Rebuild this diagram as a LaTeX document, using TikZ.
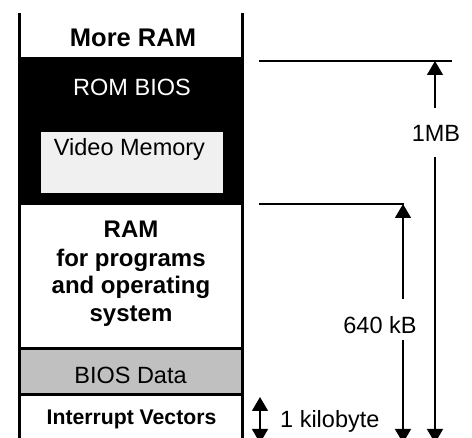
\documentclass[tikz,border=0pt]{standalone}
\usepackage{fontspec}
\setmainfont{Liberation Sans}
\usetikzlibrary{arrows.meta}
\definecolor{vidgray}{HTML}{F0F0F0}
\definecolor{biosgray}{HTML}{C0C0C0}
\begin{document}
\begin{tikzpicture}[x=1pt,y=-1pt,
  lbl/.style={inner sep=0pt, font=\fontsize{23.5}{28}\selectfont},
  blbl/.style={inner sep=0pt, font=\fontsize{24}{28}\selectfont\bfseries, align=center},
  dimline/.style={line width=1.4pt},
  dim/.style={dimline, -{Triangle[length=14pt 0,width=16pt 0]}},
  dimboth/.style={dimline, {Triangle[length=14pt 0,width=16pt 0]}-{Triangle[length=14pt 0,width=16pt 0]}},
  col/.style={line width=3.5pt},
  sepline/.style={line width=3pt}]
\useasboundingbox[fill=white] (0,0) rectangle (472,438);
% blocks
\fill[black] (19.5,57) rectangle (242.5,205);
\fill[biosgray] (19.5,349) rectangle (242.5,395);
\node[fill=vidgray, minimum width=182pt, minimum height=61pt, inner sep=0pt, anchor=north west] (vid) at (41,132) {};
\draw[sepline] (19.5,349) -- (242.5,349);
\draw[sepline] (19.5,395) -- (242.5,395);
\draw[col] (19.5,13) -- (19.5,445);
\draw[col] (242.5,13) -- (242.5,445);
% texts
\node[blbl, font=\fontsize{25.5}{28}\selectfont\bfseries] (more) at (133,38) {More RAM};
\node[lbl, text=white] (rom) at (132,87) {ROM BIOS};
\node[lbl] (vidt) at (129.5,149) {Video Memory};
\node[blbl, anchor=base] (ram1) at (131,238) {RAM};
\node[blbl, anchor=base] (ram2) at (131,267) {for programs};
\node[blbl, anchor=base] (ram3) at (131,294) {and operating};
\node[blbl, anchor=base] (ram4) at (131,322) {system};
\node[lbl] (bios) at (130.5,375) {BIOS Data};
\node[blbl, font=\fontsize{21.2}{25}\selectfont\bfseries] (ivec) at (131.5,419.5) {Interrupt Vectors};
% dimension lines
\coordinate (h1a) at (259,61);
\coordinate (h1b) at (452,61);
\coordinate (h2a) at (259,204);
\coordinate (h2b) at (404,204);
\draw[dimline] (h1a) -- (h1b);
\draw[dimline] (h2a) -- (h2b);
% 1MB
\coordinate (mbtop) at (435,61);
\coordinate (mbg1) at (435,108);
\coordinate (mbg2) at (435,157);
\coordinate (mbbot) at (435,443);
\node[lbl] (mb) at (436,133) {1MB};
\draw[dim] (mbg1) -- (mbtop);
\draw[dim] (mbg2) -- (mbbot);
% 640 kB
\coordinate (ktop) at (403,204);
\coordinate (kg1) at (403,299);
\coordinate (kg2) at (403,340);
\coordinate (kbot) at (403,443);
\node[lbl] (k640) at (380,325) {640 kB};
\draw[dim] (kg1) -- (ktop);
\draw[dim] (kg2) -- (kbot);
% 1 kilobyte
\coordinate (kbt) at (260,397);
\coordinate (kbb) at (260,443);
\draw[dimboth] (kbt) -- (kbb);
\node[lbl, anchor=west] (kb) at (280,421) {1 kilobyte};
\end{tikzpicture}
\end{document}
